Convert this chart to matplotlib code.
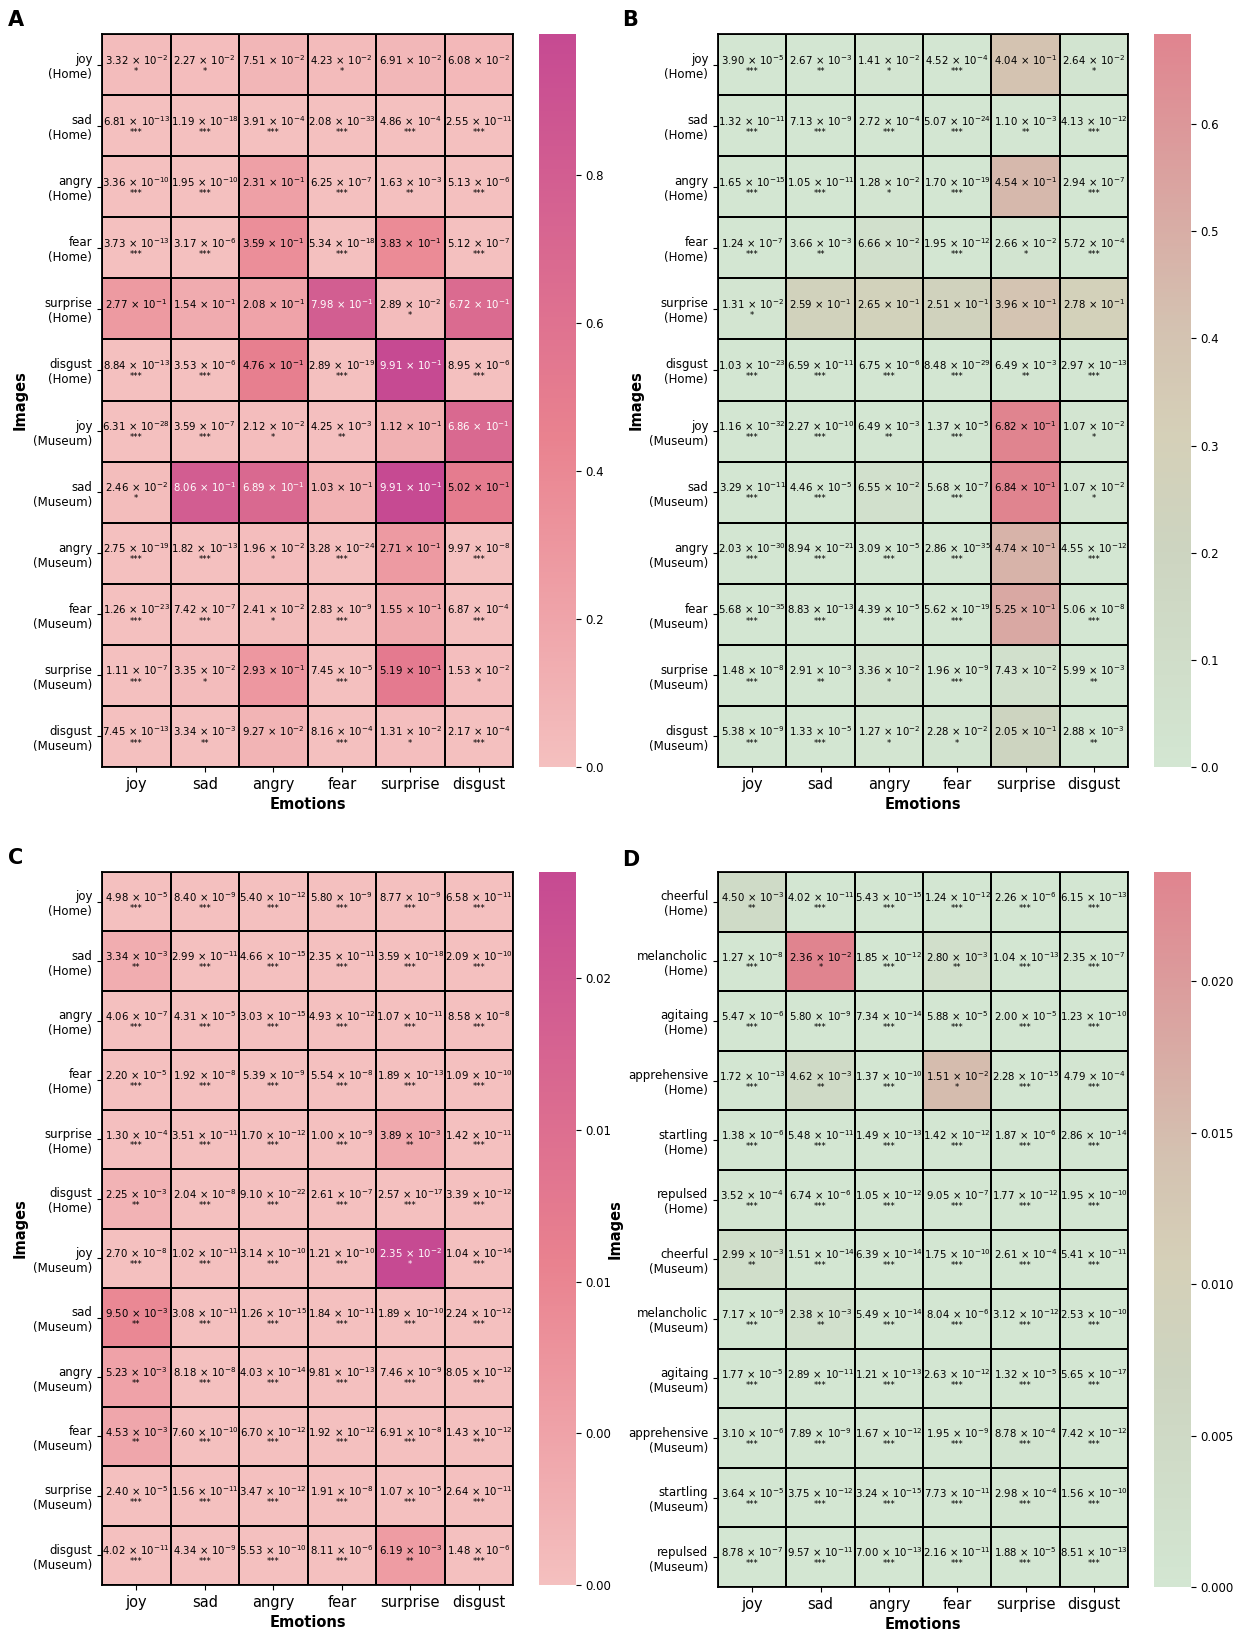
import numpy as np
import matplotlib
matplotlib.use('Agg')
import matplotlib.pyplot as plt
from matplotlib.colors import LinearSegmentedColormap, Normalize

emotions = ['joy', 'sad', 'angry', 'fear', 'surprise', 'disgust']
rows_basic = ['joy', 'sad', 'angry', 'fear', 'surprise', 'disgust']
rows_fine = ['cheerful', 'melancholic', 'agitaing', 'apprehensive', 'startling', 'repulsed']

p_A = [
    [3.32e-2, 2.27e-2, 7.51e-2, 4.23e-2, 6.91e-2, 6.08e-2],
    [6.81e-13, 1.19e-18, 3.91e-4, 2.08e-33, 4.86e-4, 2.55e-11],
    [3.36e-10, 1.95e-10, 2.31e-1, 6.25e-7, 1.63e-3, 5.13e-6],
    [3.73e-13, 3.17e-6, 3.59e-1, 5.34e-18, 3.83e-1, 5.12e-7],
    [2.77e-1, 1.54e-1, 2.08e-1, 7.98e-1, 2.89e-2, 6.72e-1],
    [8.84e-13, 3.53e-6, 4.76e-1, 2.89e-19, 9.91e-1, 8.95e-6],
    [6.31e-28, 3.59e-7, 2.12e-2, 4.25e-3, 1.12e-1, 6.86e-1],
    [2.46e-2, 8.06e-1, 6.89e-1, 1.03e-1, 9.91e-1, 5.02e-1],
    [2.75e-19, 1.82e-13, 1.96e-2, 3.28e-24, 2.71e-1, 9.97e-8],
    [1.26e-23, 7.42e-7, 2.41e-2, 2.83e-9, 1.55e-1, 6.87e-4],
    [1.11e-7, 3.35e-2, 2.93e-1, 7.45e-5, 5.19e-1, 1.53e-2],
    [7.45e-13, 3.34e-3, 9.27e-2, 8.16e-4, 1.31e-2, 2.17e-4],
]

p_B = [
    [3.90e-5, 2.67e-3, 1.41e-2, 4.52e-4, 4.04e-1, 2.64e-2],
    [1.32e-11, 7.13e-9, 2.72e-4, 5.07e-24, 1.10e-3, 4.13e-12],
    [1.65e-15, 1.05e-11, 1.28e-2, 1.70e-19, 4.54e-1, 2.94e-7],
    [1.24e-7, 3.66e-3, 6.66e-2, 1.95e-12, 2.66e-2, 5.72e-4],
    [1.31e-2, 2.59e-1, 2.65e-1, 2.51e-1, 3.96e-1, 2.78e-1],
    [1.03e-23, 6.59e-11, 6.75e-6, 8.48e-29, 6.49e-3, 2.97e-13],
    [1.16e-32, 2.27e-10, 6.49e-3, 1.37e-5, 6.82e-1, 1.07e-2],
    [3.29e-11, 4.46e-5, 6.55e-2, 5.68e-7, 6.84e-1, 1.07e-2],
    [2.03e-30, 8.94e-21, 3.09e-5, 2.86e-35, 4.74e-1, 4.55e-12],
    [5.68e-35, 8.83e-13, 4.39e-5, 5.62e-19, 5.25e-1, 5.06e-8],
    [1.48e-8, 2.91e-3, 3.36e-2, 1.96e-9, 7.43e-2, 5.99e-3],
    [5.38e-9, 1.33e-5, 1.27e-2, 2.28e-2, 2.05e-1, 2.88e-3],
]

p_C = [
    [4.98e-5, 8.40e-9, 5.40e-12, 5.80e-9, 8.77e-9, 6.58e-11],
    [3.34e-3, 2.99e-11, 4.66e-15, 2.35e-11, 3.59e-18, 2.09e-10],
    [4.06e-7, 4.31e-5, 3.03e-15, 4.93e-12, 1.07e-11, 8.58e-8],
    [2.20e-5, 1.92e-8, 5.39e-9, 5.54e-8, 1.89e-13, 1.09e-10],
    [1.30e-4, 3.51e-11, 1.70e-12, 1.00e-9, 3.89e-3, 1.42e-11],
    [2.25e-3, 2.04e-8, 9.10e-22, 2.61e-7, 2.57e-17, 3.39e-12],
    [2.70e-8, 1.02e-11, 3.14e-10, 1.21e-10, 2.35e-2, 1.04e-14],
    [9.50e-3, 3.08e-11, 1.26e-15, 1.84e-11, 1.89e-10, 2.24e-12],
    [5.23e-3, 8.18e-8, 4.03e-14, 9.81e-13, 7.46e-9, 8.05e-12],
    [4.53e-3, 7.60e-10, 6.70e-12, 1.92e-12, 6.91e-8, 1.43e-12],
    [2.40e-5, 1.56e-11, 3.47e-12, 1.91e-8, 1.07e-5, 2.64e-11],
    [4.02e-11, 4.34e-9, 5.53e-10, 8.11e-6, 6.19e-3, 1.48e-6],
]

p_D = [
    [4.50e-3, 4.02e-11, 5.43e-15, 1.24e-12, 2.26e-6, 6.15e-13],
    [1.27e-8, 2.36e-2, 1.85e-12, 2.80e-3, 1.04e-13, 2.35e-7],
    [5.47e-6, 5.80e-9, 7.34e-14, 5.88e-5, 2.00e-5, 1.23e-10],
    [1.72e-13, 4.62e-3, 1.37e-10, 1.51e-2, 2.28e-15, 4.79e-4],
    [1.38e-6, 5.48e-11, 1.49e-13, 1.42e-12, 1.87e-6, 2.86e-14],
    [3.52e-4, 6.74e-6, 1.05e-12, 9.05e-7, 1.77e-12, 1.95e-10],
    [2.99e-3, 1.51e-14, 6.39e-14, 1.75e-10, 2.61e-4, 5.41e-11],
    [7.17e-9, 2.38e-3, 5.49e-14, 8.04e-6, 3.12e-12, 2.53e-10],
    [1.77e-5, 2.89e-11, 1.21e-13, 2.63e-12, 1.32e-5, 5.65e-17],
    [3.10e-6, 7.89e-9, 1.67e-12, 1.95e-9, 8.78e-4, 7.42e-12],
    [3.64e-5, 3.75e-12, 3.24e-15, 7.73e-11, 2.98e-4, 1.56e-10],
    [8.78e-7, 9.57e-11, 7.00e-13, 2.16e-11, 1.88e-5, 8.51e-13],
]

ticks_A = [0.0, 0.2, 0.4, 0.6, 0.8]
ticks_B = [0.0, 0.1, 0.2, 0.3, 0.4, 0.5, 0.6]
ticks_C = [0.0, 0.005, 0.01, 0.015, 0.02]
ticklabels_C = ['0.00', '0.00', '0.01', '0.01', '0.02']
ticks_D = [0.0, 0.005, 0.01, 0.015, 0.02]
ticklabels_D = ['0.000', '0.005', '0.010', '0.015', '0.020']

pink = LinearSegmentedColormap.from_list(
    'pink', [(0.0, '#f4c0bf'), (0.45, '#e9828f'), (1.0, '#c64a92')])
greenred = LinearSegmentedColormap.from_list(
    'greenred', [(0.0, '#d3e6d2'), (0.3, '#cdd4c0'), (0.45, '#d5d0b8'),
                 (0.6, '#d4c2b1'), (1.0, '#e0848f')])


def stars(p):
    if p < 0.001:
        return '***'
    if p < 0.01:
        return '**'
    if p < 0.05:
        return '*'
    return ''


def sci(p):
    m, e = '{:.2e}'.format(p).split('e')
    return r'$\mathregular{%s\,\times\,10^{%d}}$' % (m, int(e))


def heatmap(ax, cax, data, ylabels, cmap, ticks, ticklabels=None):
    data = np.array(data)
    norm = Normalize(vmin=0, vmax=data.max())
    ax.pcolormesh(np.arange(7), np.arange(13), data, cmap=cmap, norm=norm,
                  edgecolors='black', linewidth=1.1)
    ax.set_xlim(0, 6)
    ax.set_ylim(12, 0)
    for i in range(12):
        for j in range(6):
            r, g, b, _ = cmap(norm(data[i, j]))
            lum = 0.299 * r + 0.587 * g + 0.114 * b
            c = 'white' if lum < 0.58 else 'black'
            ax.text(j + 0.5, i + 0.42, sci(data[i, j]), ha='center', va='center',
                    fontsize=7.3, color=c)
            ax.text(j + 0.5, i + 0.61, stars(data[i, j]), ha='center', va='center',
                    fontsize=6, color=c)
    ax.set_xticks(np.arange(6) + 0.5)
    ax.set_xticklabels(emotions, fontsize=10.5)
    ax.set_yticks(np.arange(12) + 0.5)
    labels = ['{}\n(Home)'.format(r) for r in ylabels] + ['{}\n(Museum)'.format(r) for r in ylabels]
    ax.set_yticklabels(labels, fontsize=8.5)
    for s in ax.spines.values():
        s.set_linewidth(1.3)
    ax.set_xlabel('Emotions', fontsize=10.5, fontweight='bold', labelpad=4)
    ax.set_ylabel('Images', fontsize=10.5, fontweight='bold')

    cb = plt.colorbar(plt.cm.ScalarMappable(norm=norm, cmap=cmap), cax=cax)
    cb.outline.set_linewidth(0)
    cb.set_ticks(ticks)
    if ticklabels is not None:
        cb.set_ticklabels(ticklabels)
    else:
        cb.set_ticklabels(['{:.1f}'.format(t) for t in ticks])
    cax.tick_params(labelsize=8.5)


W, H = 1234, 1637
fig = plt.figure(figsize=(W / 100, H / 100), dpi=100)


def rect(x0, y0, x1, y1):
    return [x0 / W, 1 - y1 / H, (x1 - x0) / W, (y1 - y0) / H]


axA = fig.add_axes(rect(102, 34, 513, 767))
caxA = fig.add_axes(rect(539, 34, 576, 767))
axB = fig.add_axes(rect(718, 34, 1128, 767))
caxB = fig.add_axes(rect(1154, 34, 1191, 767))
axC = fig.add_axes(rect(102, 872, 513, 1585))
caxC = fig.add_axes(rect(539, 872, 576, 1585))
axD = fig.add_axes(rect(718, 872, 1128, 1587))
caxD = fig.add_axes(rect(1154, 872, 1191, 1587))

heatmap(axA, caxA, p_A, rows_basic, pink, ticks_A)
heatmap(axB, caxB, p_B, rows_basic, greenred, ticks_B)
heatmap(axC, caxC, p_C, rows_basic, pink, ticks_C, ticklabels_C)
heatmap(axD, caxD, p_D, rows_fine, greenred, ticks_D, ticklabels_D)

for letter, x, y in [('A', 8, 10), ('B', 622, 10), ('C', 8, 848), ('D', 622, 850)]:
    fig.text(x / W, 1 - y / H, letter, fontsize=15, fontweight='bold', va='top', ha='left')

fig.savefig('out.png', dpi=100, facecolor='white')
